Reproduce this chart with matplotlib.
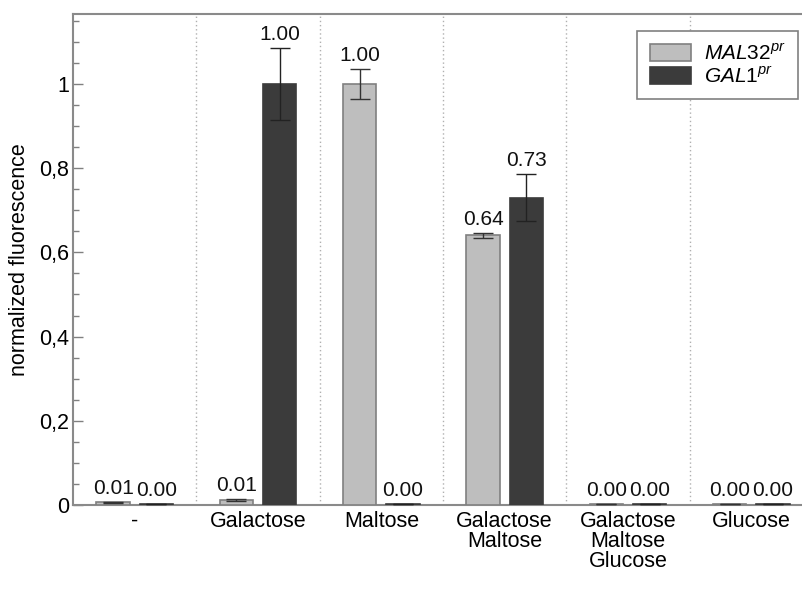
import matplotlib
matplotlib.use("Agg")
import matplotlib.pyplot as plt
import numpy as np
from matplotlib.ticker import MultipleLocator, FuncFormatter

plt.rcParams['font.family'] = ['Liberation Sans', 'DejaVu Sans']
plt.rcParams['mathtext.fontset'] = 'custom'
plt.rcParams['mathtext.it'] = 'Liberation Sans:italic'
plt.rcParams['mathtext.rm'] = 'Liberation Sans'

# data
groups = ['-', 'Galactose', 'Maltose', 'Galactose\nMaltose',
          'Galactose\nMaltose\nGlucose', 'Glucose']
mal32 = [0.006, 0.012, 1.00, 0.64, 0.002, 0.002]
mal32_err = [0.001, 0.002, 0.036, 0.005, 0.0, 0.0]
gal1 = [0.002, 1.00, 0.002, 0.73, 0.002, 0.002]
gal1_err = [0.0, 0.085, 0.0, 0.055, 0.0, 0.0]
series_names = [r'$\mathit{MAL32^{pr}}$', r'$\mathit{GAL1^{pr}}$']

fig = plt.figure(figsize=(8.03, 6.06), dpi=100)
ax = fig.add_axes([73/803, 1-505/606, (813-73)/803, (505-14)/606])

x = np.arange(len(groups))
off = 0.175
w = 0.27
ax.bar(x - off, mal32, w, color='#bebebe', edgecolor='#808080', linewidth=1.2,
       label=series_names[0], zorder=3)
ax.bar(x + off, gal1, w, color='#3b3b3b', edgecolor='#3b3b3b', linewidth=1.2,
       label=series_names[1], zorder=3)
ax.errorbar(x - off, mal32, yerr=mal32_err, fmt='none', ecolor='#333333',
            elinewidth=1, capsize=7, capthick=1, zorder=4)
ax.errorbar(x + off, gal1, yerr=gal1_err, fmt='none', ecolor='#222222',
            elinewidth=1, capsize=7, capthick=1, zorder=4)

for xs, vals, errs in [(x - off, mal32, mal32_err), (x + off, gal1, gal1_err)]:
    for xi, v, e in zip(xs, vals, errs):
        ax.text(xi, v + e + 0.01, '%.2f' % v, ha='center', va='bottom',
                fontsize=15, color='#111111', zorder=5)

# dotted separators
for s in np.arange(0.5, len(groups) - 0.5, 1):
    ax.axvline(s, color='#b0b0b0', linestyle=(0, (1, 2)), linewidth=1, zorder=1)

ax.set_xlim(-0.5, len(groups) - 0.5)
ax.set_ylim(0, 1.166)
ax.set_xticks(x)
ax.set_xticklabels(groups, fontsize=15.5, linespacing=0.95)
ax.tick_params(axis='x', length=0, pad=4)

ax.yaxis.set_major_locator(MultipleLocator(0.2))
ax.yaxis.set_minor_locator(MultipleLocator(0.05))
ax.yaxis.set_major_formatter(FuncFormatter(
    lambda v, p: '0' if abs(v) < 1e-9 else ('1' if abs(v - 1) < 1e-9 else ('%.1f' % v).replace('.', ','))))
ax.tick_params(axis='y', which='major', direction='in', length=7, width=1,
               color='#808080', labelsize=15.5, pad=3)
ax.tick_params(axis='y', which='minor', direction='in', length=4, width=1,
               color='#808080')
ax.set_ylabel('normalized fluorescence', fontsize=15.5, labelpad=6)

for sp in ['left', 'top', 'bottom', 'right']:
    ax.spines[sp].set_color('#8a8a8a')
    ax.spines[sp].set_linewidth(1.5)

leg = ax.legend(loc='upper right', bbox_to_anchor=(798/803, 1-31/606),
                bbox_transform=fig.transFigure, fontsize=15, frameon=True,
                fancybox=False, framealpha=1, edgecolor='#808080',
                handlelength=2.0, handleheight=0.85, borderpad=0.6,
                labelspacing=0.15, handletextpad=0.6, borderaxespad=0)
leg.get_frame().set_linewidth(1.2)
leg.set_zorder(10)

fig.savefig('out.png', dpi=100)
